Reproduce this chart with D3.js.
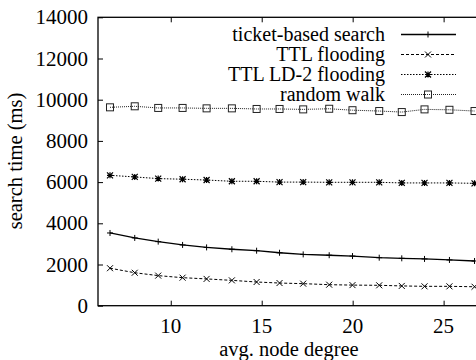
<!DOCTYPE html>
<html><head><meta charset="utf-8">
<script src="https://cdn.jsdelivr.net/npm/d3@7"></script>
<style>html,body{margin:0;padding:0;background:#fff}</style>
</head><body><svg id="c" width="476" height="360"></svg>
<script>
const degree = [6.66, 8.02, 9.31, 10.65, 11.97, 13.36, 14.72, 15.98, 17.28, 18.71, 19.99, 21.46, 22.70, 23.95, 25.32, 26.70];
const ticketSearch = [3530, 3290, 3110, 2950, 2830, 2740, 2670, 2570, 2490, 2450, 2410, 2330, 2300, 2270, 2220, 2170];
const ttlFlooding = [1820, 1600, 1460, 1360, 1300, 1230, 1150, 1100, 1070, 1020, 1000, 990, 960, 940, 940, 920];
const ttlLd2Flooding = [6330, 6250, 6170, 6140, 6100, 6040, 6040, 6000, 6000, 5990, 5990, 5990, 5960, 5960, 5960, 5940];
const randomWalk = [9630, 9680, 9600, 9600, 9580, 9580, 9550, 9550, 9530, 9560, 9490, 9450, 9400, 9530, 9510, 9450];
const seriesNames = ["ticket-based search", "TTL flooding", "TTL LD-2 flooding", "random walk"];
const xTicks = [10, 15, 20, 25];
const yTicks = [0, 2000, 4000, 6000, 8000, 10000, 12000, 14000];

const svg = d3.select("#c");
const FONT = '"Liberation Serif"';
const L = 98, R = 480, T = 17.3, B = 305.7;
const x = d3.scaleLinear().domain([6, 27]).range([L, R]);
const y = d3.scaleLinear().domain([0, 14000]).range([B, T]);

const series = [
  {name: seriesNames[0], vals: ticketSearch, dash: null, sw: 1.3, marker: "plus", color: "#000"},
  {name: seriesNames[1], vals: ttlFlooding, dash: "3,2", sw: 1, marker: "cross", color: "#000"},
  {name: seriesNames[2], vals: ttlLd2Flooding, dash: "1.5,1.5", sw: 1, marker: "star", color: "#000"},
  {name: seriesNames[3], vals: randomWalk, dash: "1,1", sw: 1, marker: "square", color: "#222"}
];

function addText(parent, txt, size) {
  return parent.append("text").style("font-family", FONT).style("font-size", size + "px").attr("fill", "#000").text(txt);
}

function drawMarker(g, type, cx, cy, color) {
  const s = 3;
  if (type === "plus") {
    g.append("path").attr("d", `M${cx-s},${cy}H${cx+s}M${cx},${cy-s}V${cy+s}`).attr("stroke", color).attr("stroke-width", 1).attr("fill", "none");
  } else if (type === "cross") {
    g.append("path").attr("d", `M${cx-s},${cy-s}L${cx+s},${cy+s}M${cx-s},${cy+s}L${cx+s},${cy-s}`).attr("stroke", color).attr("stroke-width", 1).attr("fill", "none");
  } else if (type === "star") {
    g.append("path").attr("d", `M${cx-s},${cy}H${cx+s}M${cx},${cy-s}V${cy+s}M${cx-s},${cy-s}L${cx+s},${cy+s}M${cx-s},${cy+s}L${cx+s},${cy-s}`).attr("stroke", color).attr("stroke-width", 1.2).attr("fill", "none");
  } else if (type === "square") {
    g.append("rect").attr("x", cx-3.5).attr("y", cy-3.5).attr("width", 7).attr("height", 7).attr("stroke", color).attr("stroke-width", 1).attr("fill", "none");
  }
}

// inward ticks from the scales
const axisG = svg.append("g");
axisG.append("g").attr("transform", `translate(0,${B})`)
  .call(d3.axisBottom(x).tickValues(xTicks).tickSize(-5).tickFormat(""));
axisG.append("g").attr("transform", `translate(0,${T})`)
  .call(d3.axisTop(x).tickValues(xTicks).tickSize(-5).tickFormat(""));
axisG.append("g").attr("transform", `translate(${L},0)`)
  .call(d3.axisLeft(y).tickValues(yTicks).tickSize(-5).tickFormat(""));
axisG.selectAll(".domain").remove();
axisG.selectAll(".tick text").remove();
axisG.selectAll(".tick line").attr("stroke", "#000").attr("stroke-width", 1);

const labels = svg.append("g");
xTicks.forEach(t => {
  addText(labels, String(t), 21).attr("x", x(t)).attr("y", 333).attr("text-anchor", "middle");
});
yTicks.forEach(t => {
  addText(labels, String(t), 21).attr("x", 88).attr("y", y(t)).attr("dy", "0.34em").attr("text-anchor", "end");
});

svg.append("rect").attr("x", L).attr("y", T).attr("width", R - L).attr("height", B - T)
  .attr("fill", "none").attr("stroke", "#000").attr("stroke-width", 1.3);

// series
const line = d3.line().x((d, i) => x(degree[i])).y(d => y(d));
series.forEach(s => {
  const g = svg.append("g");
  g.append("path").datum(s.vals).attr("d", line).attr("fill", "none").attr("stroke", s.color)
    .attr("stroke-width", s.sw).attr("stroke-dasharray", s.dash);
  s.vals.forEach((v, i) => drawMarker(g, s.marker, x(degree[i]), y(v), s.color));
});

// legend
const leg = svg.append("g");
series.forEach((s, i) => {
  const cy = 34.5 + i * 20;
  addText(leg, s.name, 20).attr("x", 385).attr("y", cy).attr("dy", "0.33em").attr("text-anchor", "end");
  leg.append("line").attr("x1", 401).attr("x2", 456).attr("y1", cy).attr("y2", cy)
    .attr("stroke", s.color).attr("stroke-width", s.sw).attr("stroke-dasharray", s.dash);
  drawMarker(leg, s.marker, 428, cy, s.color);
});

// axis titles
addText(svg, "avg. node degree", 20.5).attr("x", 289).attr("y", 356).attr("text-anchor", "middle");
addText(svg, "search time (ms)", 20.5).attr("transform", "translate(22,161) rotate(-90)").attr("text-anchor", "middle");
</script></body></html>
